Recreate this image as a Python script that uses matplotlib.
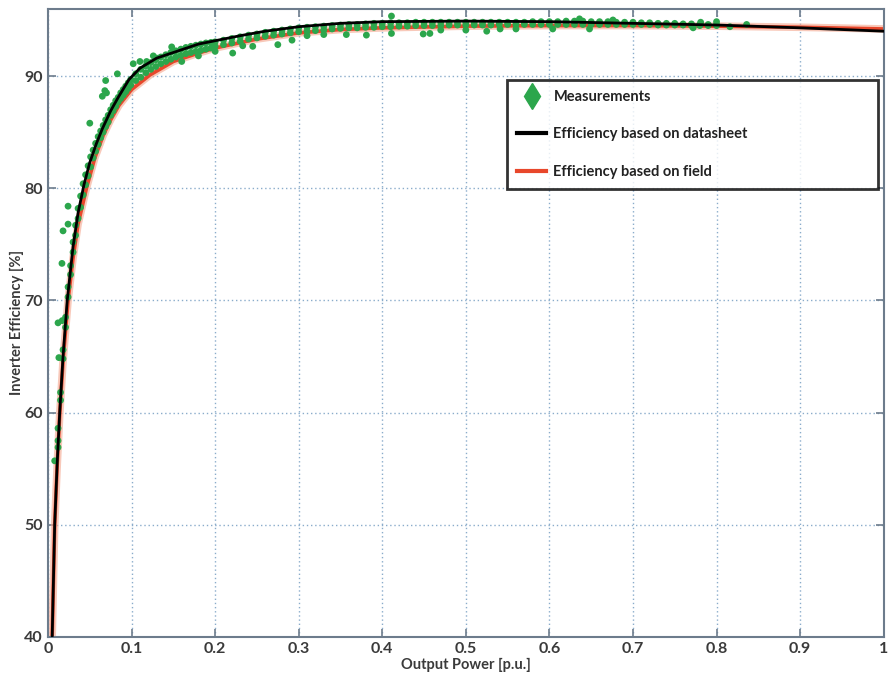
import matplotlib
matplotlib.use("Agg")
import matplotlib.pyplot as plt
from matplotlib.lines import Line2D

# efficiency curves (output power p.u., efficiency %)
sheet_x = [0.005, 0.008, 0.011, 0.014, 0.018, 0.023, 0.030, 0.036, 0.043, 0.050,
           0.058, 0.065, 0.075, 0.084, 0.097, 0.110, 0.130, 0.150, 0.180, 0.200,
           0.230, 0.260, 0.300, 0.350, 0.400, 0.500, 0.600, 0.700, 0.800, 0.900, 1.000]
sheet_y = [40.0, 50.0, 55.5, 60.0, 65.0, 70.0, 74.8, 77.8, 80.3, 82.3,
           84.0, 85.3, 86.9, 88.1, 89.7, 90.7, 91.6, 92.1, 92.85, 93.15,
           93.6, 94.0, 94.4, 94.7, 94.85, 94.9, 94.85, 94.7, 94.55, 94.3, 94.0]

field_x = [0.005, 0.008, 0.011, 0.014, 0.018, 0.024, 0.030, 0.036, 0.046, 0.056,
           0.066, 0.075, 0.085, 0.100, 0.122, 0.150, 0.180, 0.200, 0.250, 0.300,
           0.350, 0.400, 0.500, 0.600, 0.700, 0.800, 0.900, 1.000]
field_y = [40.0, 50.0, 55.3, 59.8, 64.6, 70.0, 73.8, 76.8, 80.0, 82.7,
           84.7, 86.1, 87.4, 88.8, 90.1, 91.3, 92.05, 92.5, 93.3, 93.85,
           94.15, 94.3, 94.45, 94.5, 94.5, 94.45, 94.35, 94.2]

# measurements: dense band (upper and lower edge of the cloud) plus scattered points
band_x = [0.012, 0.015, 0.018, 0.021, 0.024, 0.027, 0.030, 0.033, 0.036, 0.039,
          0.042, 0.045, 0.048, 0.051, 0.054, 0.057, 0.060, 0.063, 0.066, 0.069,
          0.072, 0.075, 0.078, 0.081, 0.084, 0.087, 0.090, 0.093, 0.096, 0.099,
          0.105, 0.111, 0.117, 0.123, 0.129, 0.135, 0.141, 0.147, 0.153, 0.159,
          0.165, 0.171, 0.177, 0.183, 0.189, 0.195,
          0.20, 0.21, 0.22, 0.23, 0.24, 0.25, 0.26, 0.27, 0.28, 0.29,
          0.30, 0.31, 0.32, 0.33, 0.34, 0.35, 0.36, 0.37, 0.38, 0.39,
          0.40, 0.41, 0.42, 0.43, 0.44, 0.45, 0.46, 0.47, 0.48, 0.49,
          0.50, 0.51, 0.52, 0.53, 0.54, 0.55, 0.56, 0.57, 0.58, 0.59,
          0.60, 0.61, 0.62, 0.63, 0.64, 0.65, 0.66, 0.67, 0.68, 0.69,
          0.70, 0.71, 0.72, 0.73, 0.74, 0.75, 0.76, 0.77, 0.78, 0.79, 0.80]
band_hi = [57.5, 61.8, 65.6, 68.5, 71.2, 73.1, 75.2, 76.7, 78.2, 79.3,
           80.4, 81.2, 82.0, 82.8, 83.4, 84.0, 84.6, 85.1, 85.6, 86.1,
           86.5, 87.0, 87.4, 87.8, 88.1, 88.5, 88.8, 89.1, 89.4, 89.7,
           90.2, 90.6, 90.9, 91.2, 91.45, 91.7, 91.9, 92.1, 92.25, 92.4,
           92.55, 92.65, 92.75, 92.85, 92.95, 93.0,
           93.05, 93.2, 93.35, 93.5, 93.65, 93.75, 93.9, 94.0, 94.1, 94.2,
           94.3, 94.35, 94.4, 94.45, 94.5, 94.55, 94.6, 94.6, 94.65, 94.7,
           94.7, 94.75, 94.75, 94.75, 94.8, 94.8, 94.8, 94.8, 94.8, 94.8,
           94.8, 94.8, 94.8, 94.8, 94.8, 94.8, 94.8, 94.8, 94.85, 94.85,
           94.85, 94.85, 94.9, 94.9, 94.9, 94.85, 94.85, 94.85, 94.8, 94.8,
           94.8, 94.75, 94.75, 94.7, 94.7, 94.7, 94.65, 94.65, 94.6, 94.6, 94.6]
band_lo = [56.9, 61.1, 64.8, 67.6, 70.3, 72.3, 74.3, 75.8, 77.3, 78.3,
           79.4, 80.3, 81.1, 81.9, 82.7, 83.3, 83.9, 84.5, 85.0, 85.5,
           85.9, 86.5, 86.9, 87.3, 87.7, 88.0, 88.3, 88.6, 88.9, 89.2,
           89.6, 89.9, 90.3, 90.6, 90.85, 91.1, 91.3, 91.5, 91.7, 91.85,
           92.0, 92.1, 92.2, 92.3, 92.4, 92.5,
           92.65, 92.8, 92.95, 93.1, 93.3, 93.4, 93.55, 93.65, 93.75, 93.85,
           93.95, 94.0, 94.05, 94.1, 94.2, 94.25, 94.3, 94.3, 94.35, 94.35,
           94.4, 94.4, 94.45, 94.45, 94.5, 94.5, 94.5, 94.5, 94.55, 94.55,
           94.55, 94.55, 94.55, 94.55, 94.6, 94.6, 94.6, 94.6, 94.6, 94.6,
           94.6, 94.6, 94.6, 94.6, 94.6, 94.6, 94.6, 94.6, 94.6, 94.6,
           94.6, 94.6, 94.6, 94.55, 94.55, 94.55, 94.55, 94.5, 94.5, 94.5, 94.5]
stray_x = [0.008, 0.012, 0.013, 0.012, 0.017, 0.0167, 0.018, 0.024, 0.024, 0.050,
           0.065, 0.070, 0.068, 0.069, 0.083, 0.102, 0.110, 0.118, 0.126, 0.130,
           0.148, 0.160, 0.180, 0.200, 0.221, 0.233, 0.245, 0.275, 0.292, 0.310,
           0.330, 0.357, 0.381, 0.411, 0.411, 0.449, 0.457, 0.470, 0.500, 0.525,
           0.541, 0.560, 0.604, 0.636, 0.648, 0.676, 0.772, 0.781, 0.800, 0.816, 0.836]
stray_y = [55.7, 58.6, 64.9, 68.0, 68.2, 73.3, 76.2, 76.8, 78.4, 85.8,
           88.2, 88.5, 88.7, 89.6, 90.2, 91.1, 91.3, 91.3, 91.8, 91.6,
           92.6, 91.3, 91.8, 92.2, 92.05, 92.7, 92.65, 92.8, 93.2, 93.6,
           93.7, 93.7, 93.65, 95.35, 93.8, 93.75, 93.8, 94.1, 94.1, 94.0,
           94.2, 94.2, 94.2, 95.1, 94.2, 95.0, 94.3, 94.8, 94.85, 94.4, 94.6]

x_ticks = [0, 0.1, 0.2, 0.3, 0.4, 0.5, 0.6, 0.7, 0.8, 0.9, 1]
x_labels = ["0", "0.1", "0.2", "0.3", "0.4", "0.5", "0.6", "0.7", "0.8", "0.9", "1"]
y_ticks = [40, 50, 60, 70, 80, 90]

green = "#2ca64c"
text_col = "#3a3a3a"
spine_col = "#6d7c8c"

plt.rcParams["font.family"] = ["Lato", "DejaVu Sans"]
plt.rcParams["font.weight"] = "bold"

fig = plt.figure(figsize=(8.89, 6.74), dpi=100)
ax = fig.add_axes([0.054, 0.055, 0.940, 0.932])

# soft halo under the field curve, then the curve itself
ax.plot(field_x, field_y, color="#f4a58c", lw=5.5, alpha=0.6, zorder=2, solid_capstyle="butt")
red, = ax.plot(field_x, field_y, color="#e8472b", lw=2.6, zorder=2.1)
ax.scatter(band_x + band_x + stray_x, band_hi + band_lo + stray_y, s=24, marker="o",
           color=green, edgecolors="none", zorder=3)
black, = ax.plot(sheet_x, sheet_y, color="black", lw=2.0, zorder=4)

ax.set_xlim(0, 1)
ax.set_ylim(40, 96)
ax.set_xticks(x_ticks)
ax.set_xticklabels(x_labels)
ax.set_yticks(y_ticks)
ax.grid(True, color="#8aaccb", linestyle=(0, (1, 2)), linewidth=1.0)
ax.set_axisbelow(True)
ax.tick_params(direction="in", length=6, width=1.2, color=spine_col, top=True, right=True,
               labelsize=11.5, labelcolor=text_col, pad=4)
for sp in ax.spines.values():
    sp.set_color(spine_col)
    sp.set_linewidth(1.5)

ax.set_xlabel("Output Power [p.u.]", fontsize=10.5, color=text_col, fontweight="bold", labelpad=1)
ax.set_ylabel("Inverter Efficiency [%]", fontsize=10.5, color=text_col, fontweight="bold", labelpad=0)

diamond = Line2D([], [], color=green, marker="d", markersize=13, linestyle="none")
leg = ax.legend([diamond, black, red],
                ["Measurements", "Efficiency based on datasheet", "Efficiency based on field"],
                loc="upper left", bbox_to_anchor=(0.549, 0.887, 0.444, 0.0), mode="expand",
                fontsize=10.5, labelspacing=1.6, handlelength=2.0, handletextpad=0.5,
                borderpad=0.7, frameon=True, fancybox=False, borderaxespad=0)
leg.get_frame().set_edgecolor("black")
leg.get_frame().set_linewidth(2.0)
for t in leg.get_texts():
    t.set_color("#222222")
leg.legend_handles[1].set_linewidth(3)
leg.legend_handles[2].set_linewidth(3)
leg.set_zorder(6)

fig.savefig("out.png", dpi=100)
